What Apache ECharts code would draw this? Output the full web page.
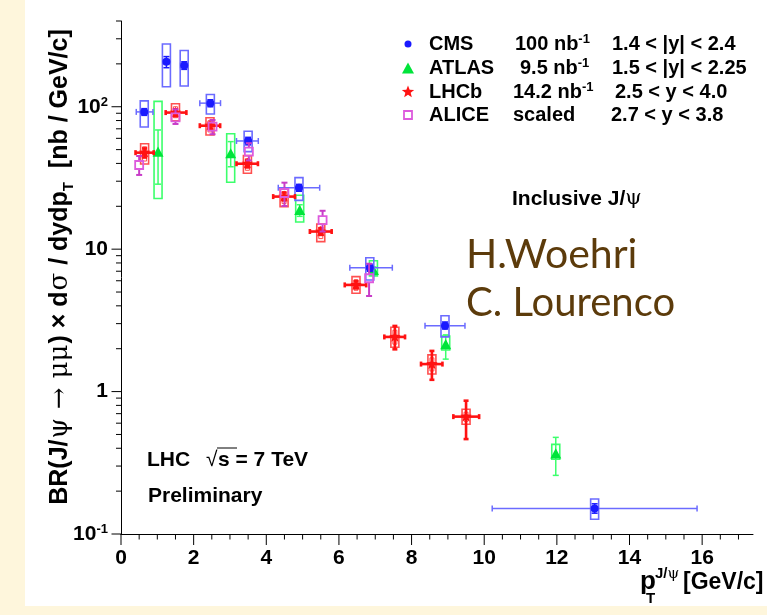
<!DOCTYPE html>
<html><head><meta charset="utf-8">
<script src="https://cdn.jsdelivr.net/npm/echarts@6/dist/echarts.min.js"></script>
<style>
html,body{margin:0;padding:0;background:#fef6dc;width:767px;height:615px;overflow:hidden;}
#bg{position:absolute;left:25px;top:0;width:742px;height:606px;background:#fff;}
#c{position:absolute;left:0;top:0;width:767px;height:615px;}
</style>
</head><body><div id="bg"></div><div id="c"></div>
<script>
// ---------------- data ----------------
const xTickLabels = [0, 2, 4, 6, 8, 10, 12, 14, 16];
const yTickValues = [0.1, 1, 10, 100];
const yTickTexts = ['10{sup|-1}', '1', '10', '10{sup|2}'];

// CMS: pT, value, pT low, pT high, stat low, stat high, syst low, syst high
const cmsRows = [
  [0.64, 92, 0.42, 0.88, 87, 97, 72, 110],
  [1.25, 207, 1.15, 1.35, 188, 225, 138, 276],
  [1.74, 195, 1.64, 1.84, 183, 207, 140, 248],
  [2.46, 106, 2.17, 2.74, 100, 112, 89, 122],
  [3.50, 57.5, 3.18, 3.78, 54, 61, 48.4, 67.3],
  [4.90, 27.0, 4.33, 5.47, 25.5, 28.5, 22, 31.8],
  [6.85, 7.41, 6.30, 7.47, 7.0, 7.85, 6.08, 8.71],
  [8.92, 2.90, 8.37, 9.47, 2.75, 3.08, 2.42, 3.41],
  [13.04, 0.151, 10.22, 15.86, 0.140, 0.163, 0.127, 0.176]
];
// ATLAS: pT, value, stat low, stat high, syst low, syst high
const atlasRows = [
  [1.02, 47.6, 28.6, 68.7, 22.7, 109],
  [3.02, 46.4, 37.9, 56.9, 29.5, 64.7],
  [4.92, 18.6, 17.0, 20.5, 15.5, 23.9],
  [6.95, 7.03, 6.6, 7.5, 6.49, 8.3],
  [8.94, 2.12, 1.69, 2.5, 1.96, 2.45],
  [11.97, 0.363, 0.258, 0.477, 0.335, 0.426]
];
// LHCb: pT, value, pT low, pT high, stat low, stat high, syst low, syst high
const lhcbRows = [
  [0.65, 47.6, 0.40, 0.90, 44, 51, 39.6, 55],
  [1.50, 91, 1.23, 1.80, 86, 96, 79.8, 105],
  [2.45, 73.6, 2.17, 2.73, 70, 77, 63.4, 83.8],
  [3.48, 39.8, 3.18, 3.77, 37.5, 42, 34.1, 45.4],
  [4.49, 23.4, 4.19, 4.79, 22, 25, 19.9, 26.5],
  [5.50, 13.3, 5.20, 5.80, 12.6, 14.0, 11.3, 15.0],
  [6.47, 5.61, 6.16, 6.75, 5.3, 5.95, 4.9, 6.41],
  [7.54, 2.42, 7.25, 7.82, 1.98, 2.89, 2.05, 2.83],
  [8.56, 1.56, 8.26, 8.85, 1.21, 1.93, 1.33, 1.81],
  [9.50, 0.667, 9.15, 9.86, 0.464, 0.863, 0.589, 0.752]
];
// ALICE (scaled): pT, value, stat low, stat high
const aliceRows = [
  [0.50, 39, 33.2, 45.1],
  [1.50, 84.3, 75.7, 96],
  [2.52, 72.4, 64.1, 80.7],
  [3.52, 48.4, 42, 55.5],
  [4.50, 24.8, 20.1, 29.3],
  [5.55, 16.0, 13.3, 18.6],
  [6.83, 6.25, 4.69, 7.9]
];
const legendNames = ['CMS', 'ATLAS', 'LHCb', 'ALICE'];
const legendLumi = ['100 nb{sup|-1}', '9.5 nb{sup|-1}', '14.2 nb{sup|-1}', 'scaled'];
const legendRanges = ['1.4 < |y| < 2.4', '1.5 < |y| < 2.25', '2.5 < y < 4.0', '2.7 < y < 3.8'];

// ---------------- styles ----------------
const F = '"Liberation Sans", Arial, Helvetica, sans-serif';
const BLUE = '#1a1aff', BLUE_L = '#6b6bff';
const GREEN = '#00e43a', GREEN_L = '#3cff6c';
const RED = '#ff1212', RED_L = '#ff5050';
const PURP = '#c83cc8', PURP_L = '#dd5add';

function ln(x1, y1, x2, y2, color, lw) {
  return {type: 'line', shape: {x1, y1, x2, y2}, style: {stroke: color, lineWidth: lw}};
}
function vbar(x, y1, y2, cap, color, lw) {
  return [ln(x, y1, x, y2, color, lw), ln(x - cap, y1, x + cap, y1, color, lw), ln(x - cap, y2, x + cap, y2, color, lw)];
}
function hbar(y, x1, x2, cap, color, lw) {
  return [ln(x1, y, x2, y, color, lw), ln(x1, y - cap, x1, y + cap, color, lw), ln(x2, y - cap, x2, y + cap, color, lw)];
}
function box(cx, top, bottom, hw, color, lw) {
  return {type: 'rect', shape: {x: cx - hw, y: top, width: 2 * hw, height: bottom - top}, style: {fill: 'none', stroke: color, lineWidth: lw}};
}
function starPts(cx, cy, R, r) {
  const p = [];
  for (let i = 0; i < 10; i++) {
    const a = -Math.PI / 2 + i * Math.PI / 5;
    const rr = i % 2 ? r : R;
    p.push([cx + rr * Math.cos(a), cy + rr * Math.sin(a)]);
  }
  return p;
}
function triPts(cx, cy, s) {
  return [[cx, cy - s * 1.1], [cx - s, cy + s * 0.75], [cx + s, cy + s * 0.75]];
}

function renderCMS(params, api) {
  const x = api.value(0), y = api.value(1);
  const c = api.coord([x, y]);
  const xl = api.coord([api.value(2), y])[0], xh = api.coord([api.value(3), y])[0];
  const sl = api.coord([x, api.value(4)])[1], sh = api.coord([x, api.value(5)])[1];
  const bl = api.coord([x, api.value(6)])[1], bh = api.coord([x, api.value(7)])[1];
  const ch = [box(c[0], bh, bl, 4, BLUE_L, 1.6)];
  ch.push(...hbar(c[1], xl, xh, 3, BLUE_L, 1.5));
  ch.push(...vbar(c[0], sl, sh, 3, BLUE, 1.5));
  ch.push({type: 'circle', shape: {cx: c[0], cy: c[1], r: 4}, style: {fill: BLUE}});
  return {type: 'group', children: ch};
}
function renderATLAS(params, api) {
  const x = api.value(0), y = api.value(1);
  const c = api.coord([x, y]);
  const sl = api.coord([x, api.value(2)])[1], sh = api.coord([x, api.value(3)])[1];
  const bl = api.coord([x, api.value(4)])[1], bh = api.coord([x, api.value(5)])[1];
  const ch = [box(c[0], bh, bl, 4, GREEN_L, 1.6)];
  ch.push(...vbar(c[0], sl, sh, 3, GREEN_L, 1.5));
  ch.push({type: 'polygon', shape: {points: triPts(c[0], c[1], 5.5)}, style: {fill: GREEN}});
  return {type: 'group', children: ch};
}
function renderLHCb(params, api) {
  const x = api.value(0), y = api.value(1);
  const c = api.coord([x, y]);
  const xl = api.coord([api.value(2), y])[0], xh = api.coord([api.value(3), y])[0];
  const sl = api.coord([x, api.value(4)])[1], sh = api.coord([x, api.value(5)])[1];
  const bl = api.coord([x, api.value(6)])[1], bh = api.coord([x, api.value(7)])[1];
  const ch = [box(c[0], bh, bl, 4, RED_L, 1.6), box(c[0], bh + 3, bl - 3, 2, RED_L, 1)];
  ch.push(...hbar(c[1], xl, xh, 2.5, RED, 2.6));
  ch.push(...vbar(c[0], sl, sh, 2.5, RED, 2.6));
  ch.push({type: 'polygon', shape: {points: starPts(c[0], c[1], 6, 2.6)}, style: {fill: RED}});
  return {type: 'group', children: ch};
}
function renderALICE(params, api) {
  const x = api.value(0), y = api.value(1);
  const c = api.coord([x, y]);
  const sl = api.coord([x, api.value(2)])[1], sh = api.coord([x, api.value(3)])[1];
  const ch = [];
  if (sh < c[1] - 4) ch.push(ln(c[0], c[1] - 4, c[0], sh, PURP, 2), ln(c[0] - 3, sh, c[0] + 3, sh, PURP, 2));
  if (sl > c[1] + 4) ch.push(ln(c[0], c[1] + 4, c[0], sl, PURP, 2), ln(c[0] - 3, sl, c[0] + 3, sl, PURP, 2));
  ch.push({type: 'rect', shape: {x: c[0] - 4, y: c[1] - 4, width: 8, height: 8}, style: {fill: 'none', stroke: PURP_L, lineWidth: 1.8}});
  return {type: 'group', children: ch};
}
// axis ticks and y labels (through the axis scales)
function renderFrame(params, api) {
  const ch = [];
  for (let v = 0; v <= 17.4 + 1e-9; v += 0.5) {
    const p = api.coord([v, 0.1]);
    const major = Math.abs(v / 2 - Math.round(v / 2)) < 1e-9;
    ch.push(ln(p[0], p[1], p[0], p[1] + (major ? 11 : 5.5), '#000', 1));
  }
  for (let e = -1; e <= 2; e++) {
    for (let m = 1; m <= 9; m++) {
      const v = m * Math.pow(10, e);
      if (v > 400) break;
      const p = api.coord([0, v]);
      ch.push(ln(p[0], p[1], p[0] - (m === 1 ? 9.5 : 5), p[1], '#000', 1));
    }
  }
  yTickValues.forEach((v, i) => {
    const p = api.coord([0, v]);
    ch.push({type: 'text', style: {
      text: yTickTexts[i], x: p[0] - 13, y: p[1], align: 'right', verticalAlign: 'middle',
      font: 'bold 21px ' + F, fill: '#000',
      rich: {sup: {font: 'bold 13px ' + F, fill: '#000', verticalAlign: 'top', lineHeight: 22}}
    }});
  });
  return {type: 'group', children: ch};
}

// ---------------- graphics (legend, texts) ----------------
const gfx = [];
const rowY = [44, 68, 92, 115];
const lumiX = [515, 520, 513, 513];
const rangeX = [612, 612, 615, 611];
const T = (text, x, y, font, extra) => ({type: 'text', x, y, style: Object.assign({text, font, fill: '#000', verticalAlign: 'middle'}, extra || {})});
for (let i = 0; i < 4; i++) {
  const y = rowY[i];
  if (i === 0) gfx.push({type: 'circle', shape: {cx: 408, cy: y, r: 3.5}, style: {fill: BLUE}});
  if (i === 1) gfx.push({type: 'polygon', shape: {points: triPts(408, y + 1, 6)}, style: {fill: GREEN}});
  if (i === 2) gfx.push({type: 'polygon', shape: {points: starPts(408, y, 6.5, 2.8)}, style: {fill: RED}});
  if (i === 3) gfx.push({type: 'rect', shape: {x: 404, y: y - 4, width: 8, height: 8}, style: {fill: 'none', stroke: PURP_L, lineWidth: 1.8}});
  gfx.push(T(legendNames[i], 429, y, 'bold 20px ' + F));
  gfx.push(T(legendLumi[i], lumiX[i], y, 'bold 20px ' + F, {rich: {sup: {font: 'bold 13px ' + F, verticalAlign: 'top', lineHeight: 22}}}));
  gfx.push(T(legendRanges[i], rangeX[i], y, 'bold 20px ' + F));
}
gfx.push(T('Inclusive J/{g|ψ}', 512, 199, 'bold 21px ' + F, {rich: {g: {font: '21px "DejaVu Serif", serif'}}}));
gfx.push(T('H.Woehri', 466, 255, '41px Lato, "Open Sans", sans-serif', {fill: '#5c3b0b'}));
gfx.push(T('C. Lourenco', 466, 303, '40px Lato, "Open Sans", sans-serif', {fill: '#5c3b0b'}));
gfx.push(T('LHC', 147, 460, 'bold 21px ' + F));
gfx.push(T('√', 206, 460, '21px ' + F));
gfx.push({type: 'line', shape: {x1: 217, y1: 448, x2: 237, y2: 448}, style: {stroke: '#000', lineWidth: 1}});
gfx.push(T('s = 7 TeV', 218, 460, 'bold 21px ' + F));
gfx.push(T('Preliminary', 148, 496, 'bold 21px ' + F));
// x-axis title
gfx.push(T('p', 640, 582, 'bold 26px ' + F));
gfx.push(T('J/{g|ψ}', 655, 574, 'bold 15px ' + F, {rich: {g: {font: '15px "DejaVu Serif", serif'}}}));
gfx.push(T('T', 646, 599, 'bold 15px ' + F));
gfx.push(T('[GeV/c]', 683, 583, 'bold 23px ' + F));
// y-axis title
gfx.push({type: 'text', x: 60, y: 267, rotation: Math.PI / 2, style: {
  text: 'BR(J/{g|ψ} {g|→} {g|μμ}) × d{g|σ} / dydp{sub|T}  [nb / GeV/c]',
  font: 'bold 25px ' + F, fill: '#000', align: 'center', verticalAlign: 'middle',
  rich: {g: {font: '26px "DejaVu Serif", serif', padding: [0, 1, 0, 1]}, sub: {font: 'bold 15px ' + F, verticalAlign: 'bottom', lineHeight: 32}}
}});

// ---------------- chart ----------------
const chart = echarts.init(document.getElementById('c'), null, {renderer: 'canvas'});
chart.setOption({
  backgroundColor: 'transparent',
  animation: false,
  grid: {left: 121, right: 14, top: 21, bottom: 81, containLabel: false},
  xAxis: {
    type: 'value', min: 0, max: 17.4, interval: 2,
    axisLine: {onZero: false, lineStyle: {color: '#000', width: 1}},
    axisTick: {show: false}, splitLine: {show: false},
    axisLabel: {
      margin: 14, color: '#000', fontFamily: F, fontWeight: 'bold', fontSize: 21,
      showMaxLabel: false,
      formatter: v => (xTickLabels.indexOf(v) >= 0 ? String(v) : '')
    }
  },
  yAxis: {
    type: 'log', logBase: 10, min: 0.1, max: 400,
    axisLine: {show: true, lineStyle: {color: '#000', width: 1}},
    axisTick: {show: false}, splitLine: {show: false}, axisLabel: {show: false}
  },
  graphic: gfx,
  series: [
    {type: 'custom', name: 'frame', data: [[0, 1]], renderItem: renderFrame, silent: true, z: 1},
    {type: 'custom', name: 'ATLAS', data: atlasRows, renderItem: renderATLAS, encode: {x: 0, y: 1}, z: 2},
    {type: 'custom', name: 'CMS', data: cmsRows, renderItem: renderCMS, encode: {x: 0, y: 1}, z: 3},
    {type: 'custom', name: 'LHCb', data: lhcbRows, renderItem: renderLHCb, encode: {x: 0, y: 1}, z: 4},
    {type: 'custom', name: 'ALICE', data: aliceRows, renderItem: renderALICE, encode: {x: 0, y: 1}, z: 5}
  ]
});
</script>
</body></html>
